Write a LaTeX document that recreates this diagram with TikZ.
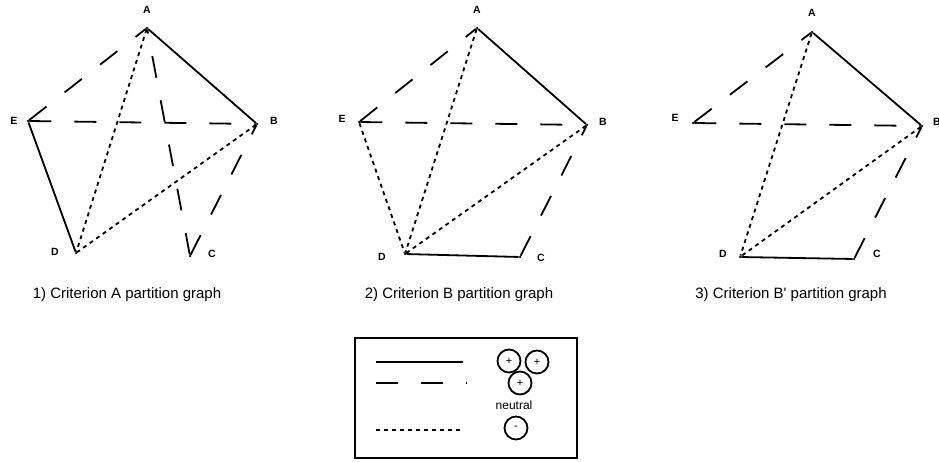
\documentclass[tikz,border=0pt]{standalone}
\usepackage{fontspec}
\setmainfont{Liberation Sans}
\begin{document}
\begin{tikzpicture}[x=1pt,y=-1pt]
	\tikzstyle{vtx}=[circle,fill=black,inner sep=0,minimum size=2.5pt]
	\tikzstyle{lbl}=[font=\fontsize{10.5}{12}\selectfont\bfseries]
	\tikzstyle{captxt}=[font=\fontsize{15}{18}\selectfont]
	\tikzstyle{solidedge}=[line width=1.8pt]
	\tikzstyle{dashedge}=[line width=1.8pt,dash pattern=on 22pt off 23pt]
	\tikzstyle{dotedge}=[line width=1.8pt,dash pattern=on 4pt off 4pt]
	\tikzstyle{chg}=[circle,draw,line width=1.8pt,minimum size=23pt,inner sep=0,font=\fontsize{11}{12}\selectfont]

	\useasboundingbox (0,0) rectangle (939,462);

	% 1) criterion A
	\node [vtx] (a1) at (147, 28) {};
	\node [vtx] (b1) at (257,124) {};
	\node [vtx] (c1) at (190,256) {};
	\node [vtx] (d1) at ( 76,253) {};
	\node [vtx] (e1) at ( 28,121) {};
	\node [lbl] (la1) at (147, 10) {A};
	\node [lbl] (lb1) at (274,121) {B};
	\node [lbl] (lc1) at (212,254) {C};
	\node [lbl] (ld1) at ( 55,252) {D};
	\node [lbl] (le1) at ( 14,121) {E};
	\node [captxt] (cap1) at (127,295) {1) Criterion A partition graph};

	\draw[solidedge] (a1) -- (b1);
	\draw[solidedge] (e1) -- (d1);
	\draw[dashedge] (e1) -- (a1);
	\draw[dashedge] (e1) -- (b1);
	\draw[dashedge] (c1) -- (a1);
	\draw[dashedge] (c1) -- (b1);
	\draw[dotedge] (a1) -- (d1);
	\draw[dotedge] (b1) -- (d1);

	% 2) criterion B
	\node [vtx] (a2) at (477, 28) {};
	\node [vtx] (b2) at (587,125) {};
	\node [vtx] (c2) at (520,257) {};
	\node [vtx] (d2) at (405,254) {};
	\node [vtx] (e2) at (359,122) {};
	\node [lbl] (la2) at (477, 10) {A};
	\node [lbl] (lb2) at (603,122) {B};
	\node [lbl] (lc2) at (541,258) {C};
	\node [lbl] (ld2) at (382,257) {D};
	\node [lbl] (le2) at (342,119) {E};
	\node [captxt] (cap2) at (459,295) {2) Criterion B partition graph};

	\draw[solidedge] (a2) -- (b2);
	\draw[solidedge] (d2) -- (c2);
	\draw[dashedge] (e2) -- (a2);
	\draw[dashedge] (e2) -- (b2);
	\draw[dashedge] (c2) -- (b2);
	\draw[dotedge] (a2) -- (d2);
	\draw[dotedge] (e2) -- (d2);
	\draw[dotedge] (b2) -- (d2);

	% 3) criterion B'
	\node [vtx] (a3) at (812, 32) {};
	\node [vtx] (b3) at (922,126) {};
	\node [vtx] (c3) at (854,259) {};
	\node [vtx] (d3) at (740,257) {};
	\node [vtx] (e3) at (693,123) {};
	\node [lbl] (la3) at (812, 13) {A};
	\node [lbl] (lb3) at (937,122) {B};
	\node [lbl] (lc3) at (877,254) {C};
	\node [lbl] (ld3) at (723,254) {D};
	\node [lbl] (le3) at (675,118) {E};
	\node [captxt] (cap3) at (791,295) {3) Criterion B\textquotesingle{} partition graph};

	\draw[solidedge] (a3) -- (b3);
	\draw[solidedge] (d3) -- (c3);
	\draw[dashedge] (e3) -- (a3);
	\draw[dashedge] (e3) -- (b3);
	\draw[dashedge] (c3) -- (b3);
	\draw[dotedge] (a3) -- (d3);
	\draw[dotedge] (b3) -- (d3);

	% legend
	\node [draw,line width=1.8pt,minimum width=222pt,minimum height=120pt] (legend) at (466,398) {};
	\coordinate (s1) at (376,362);
	\coordinate (s2) at (463,362);
	\coordinate (h1) at (376,383);
	\coordinate (h2) at (467,383);
	\coordinate (t1) at (376,430);
	\coordinate (t2) at (461,430);
	\draw[solidedge] (s1) -- (s2);
	\draw[dashedge] (h1) -- (h2);
	\draw[dotedge] (t1) -- (t2);

	\node [chg] (p1) at (509,361) {+};
	\node [chg] (p2) at (537,362) {+};
	\node [chg] (p3) at (520,383) {+};
	\node [font=\fontsize{12}{14}\selectfont] (neu) at (514,405) {neutral};
	\node [chg] (m1) at (516,428) {-};
\end{tikzpicture}
\end{document}
